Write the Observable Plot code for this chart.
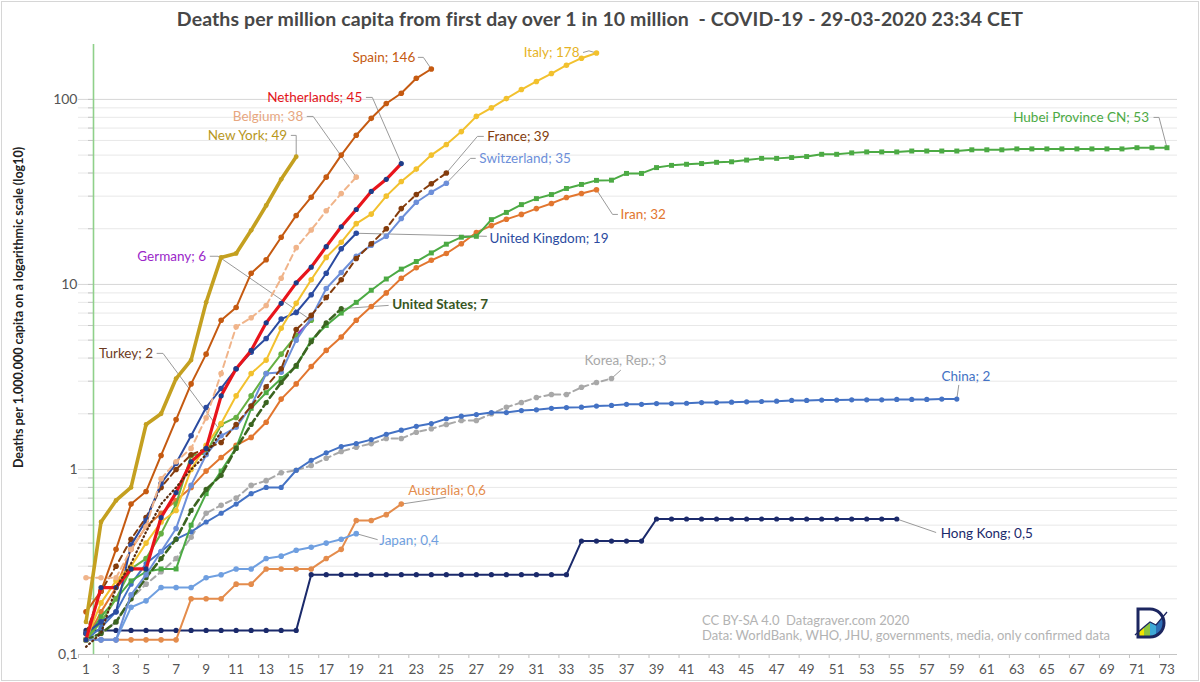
<!DOCTYPE html>
<html>
<head>
<meta charset="utf-8">
<script src="https://cdn.jsdelivr.net/npm/d3@7"></script>
<script src="https://cdn.jsdelivr.net/npm/@observablehq/plot@0.6"></script>
<style>
  body { margin: 0; background: #fff; font-family: Lato, "Open Sans", sans-serif; }
  #wrap { position: relative; width: 1200px; height: 682px; overflow: hidden; background: #fff; }
  #border { position: absolute; left: 1px; top: 1px; width: 1196px; height: 678px; border: 1px solid #d6d6d6; pointer-events: none; }
  #title { position: absolute; top: 7px; left: 0; width: 1200px; text-align: center; font-weight: bold; font-size: 19.5px; color: #474747; letter-spacing: 0.1px; }
  #chart { position: absolute; top: 36px; left: 0; }
  #caption { position: absolute; left: 702px; top: 613px; font-size: 13px; color: #b3b3b3; line-height: 15px; }
  #logo { position: absolute; left: 1133px; top: 605px; }
</style>
</head>
<body>
<div id="wrap">
  <div id="title">Deaths per million capita from first day over 1 in 10 million&nbsp; - COVID-19 - 29-03-2020 23:34 CET</div>
  <div id="chart"></div>
  <div id="caption">CC BY-SA 4.0&nbsp; Datagraver.com 2020<br>Data: WorldBank, WHO, JHU, governments, media, only confirmed data</div>
  <svg id="logo" width="36" height="36" viewBox="0 0 36 36">
    <defs><clipPath id="dclip"><path d="M5 4 H17 A14 14 0 0 1 17 32 H5 Z"/></clipPath></defs>
    <g clip-path="url(#dclip)">
      <polygon points="5,32 5,27 11,22 11,32" fill="#f2e400"/>
      <polygon points="11,32 11,22 17,17 17,32" fill="#8cc63f"/>
      <polygon points="17,32 17,17 23,20 23,32" fill="#3fa9d6"/>
      <polygon points="23,32 23,20 32,10 32,32" fill="#2e6fb7"/>
    </g>
    <path d="M5 4 H17 A14 14 0 0 1 17 32 H5 Z" fill="none" stroke="#1c2660" stroke-width="3"/>
    <polyline points="2,30 11,22 17,17 23,20 34,7" fill="none" stroke="#1c2660" stroke-width="1.3"/>
  </svg>
  <div id="border"></div>
</div>
<script>
// ---------- data: deaths per million, index 0 = day 1 ----------
const hubei = [0.12, 0.16, 0.2, 0.25, 0.28, 0.29, 0.29, 0.5, 0.74, 0.98,
  1.31, 2.14, 2.6, 3.1, 3.6, 5.0, 6.0, 7.0, 8.0, 9.3,
  10.7, 12.1, 13.3, 14.8, 16.5, 18, 18.2, 22.4, 24.5, 27,
  29.1, 30.6, 33, 34.7, 36.5, 36.6, 39.8, 39.8, 42.8, 44,
  44.6, 45, 45.7, 46, 47, 48, 48, 48.5, 49.1, 50.5,
  50.5, 51.4, 52, 52, 52, 52.6, 52.6, 52.6, 52.6, 53.4,
  53.4, 53.4, 54, 54, 54, 54, 54, 54, 54, 54,
  54.8, 54.8, 54.8];
const china = [0.12, 0.14, 0.17, 0.24, 0.31, 0.36, 0.42, 0.46, 0.52, 0.58,
  0.65, 0.74, 0.8, 0.8, 0.99, 1.12, 1.23, 1.33, 1.38, 1.45,
  1.55, 1.63, 1.71, 1.77, 1.88, 1.94, 1.98, 2.03, 2.03, 2.08,
  2.1, 2.14, 2.16, 2.17, 2.2, 2.22, 2.25, 2.25, 2.27, 2.27,
  2.28, 2.3, 2.3, 2.31, 2.32, 2.33, 2.34, 2.36, 2.36, 2.37,
  2.37, 2.38, 2.38, 2.38, 2.39, 2.39, 2.39, 2.4, 2.4];
const hongKong = [0.135, 0.135, 0.135, 0.135, 0.135, 0.135, 0.135, 0.135, 0.135, 0.135,
  0.135, 0.135, 0.135, 0.135, 0.135, 0.27, 0.27, 0.27, 0.27, 0.27,
  0.27, 0.27, 0.27, 0.27, 0.27, 0.27, 0.27, 0.27, 0.27, 0.27,
  0.27, 0.27, 0.27, 0.41, 0.41, 0.41, 0.41, 0.41, 0.54, 0.54,
  0.54, 0.54, 0.54, 0.54, 0.54, 0.54, 0.54, 0.54, 0.54, 0.54,
  0.54, 0.54, 0.54, 0.54, 0.54];
const korea = [0.12, 0.13, 0.15, 0.2, 0.24, 0.28, 0.33, 0.43, 0.58, 0.64,
  0.7, 0.82, 0.87, 0.96, 0.99, 1.05, 1.15, 1.25, 1.32, 1.38,
  1.47, 1.47, 1.59, 1.66, 1.75, 1.84, 1.84, 2.0, 2.17, 2.3,
  2.45, 2.54, 2.54, 2.78, 2.95, 3.1];
const iran = [0.12, 0.17, 0.23, 0.37, 0.49, 0.58, 0.68, 0.8, 0.98, 1.16,
  1.35, 1.49, 1.8, 2.4, 2.9, 3.6, 4.4, 5.2, 6.4, 7.6,
  9.0, 10.8, 12.3, 13.5, 14.7, 16.6, 19.1, 20.8, 22.5, 23.9,
  25.7, 27.4, 29.5, 31, 32.5];
const italy = [0.12, 0.19, 0.25, 0.3, 0.4, 0.52, 0.6, 1.0, 1.35, 1.77,
  2.5, 3.3, 3.9, 5.8, 7.9, 10.6, 14, 16.9, 21.3, 24,
  30, 36, 42, 50, 57, 67, 81, 90, 101, 113,
  125, 138, 153, 167, 178];
const spain = [0.17, 0.22, 0.37, 0.65, 0.76, 1.19, 1.86, 2.9, 4.2, 6.4,
  7.5, 11.5, 13.6, 18, 23.6, 29.6, 38, 50, 64, 79,
  95, 108, 130, 146];
const netherlands = [0.12, 0.23, 0.23, 0.29, 0.29, 0.55, 0.75, 1.1, 1.3, 2.5,
  3.5, 4.4, 6.2, 7.9, 10.2, 12.4, 16, 20.5, 25.4, 31.8,
  37, 45];
const belgium = [0.26, 0.26, 0.26, 0.37, 0.49, 0.89, 1.1, 1.3, 1.9, 3.3,
  5.9, 6.6, 7.7, 10.8, 15.8, 19.7, 25, 31, 38];
const newYork = [0.15, 0.52, 0.68, 0.8, 1.75, 2.0, 3.1, 3.9, 8.0, 14,
  14.7, 19.6, 26.7, 37, 49];
const france = [0.13, 0.22, 0.3, 0.42, 0.55, 0.8, 1.0, 1.2, 1.3, 1.4,
  1.75, 2.2, 2.8, 3.5, 5.7, 6.8, 8.5, 10.6, 13.8, 16.6,
  20, 25.7, 30.6, 35, 40];
const switzerland = [0.12, 0.12, 0.12, 0.21, 0.27, 0.36, 0.48, 0.82, 1.2, 1.52,
  1.69, 2.2, 3.3, 3.35, 5.0, 6.6, 9.5, 11.6, 14.2, 16.3,
  18.2, 22.7, 27.8, 31.5, 35.2];
const unitedKingdom = [0.13, 0.15, 0.17, 0.39, 0.53, 0.84, 1.08, 1.52, 2.16, 2.74,
  3.5, 4.3, 5.1, 6.5, 7.05, 8.8, 11.5, 15.6, 18.9];
const germany = [0.12, 0.15, 0.2, 0.29, 0.33, 0.45, 0.65, 1.19, 1.22, 1.75,
  1.91, 2.5, 3.3, 4.2, 5.3, 6.4];
const unitedStates = [0.12, 0.13, 0.15, 0.2, 0.26, 0.33, 0.42, 0.6, 0.78, 0.93,
  1.3, 1.75, 2.3, 2.95, 3.65, 4.9, 6.2, 7.4];
const turkey = [0.11, 0.13, 0.23, 0.31, 0.46, 0.65, 0.8, 1.0, 1.2, 1.6];
const australia = [0.12, 0.12, 0.12, 0.12, 0.12, 0.12, 0.12, 0.2, 0.2, 0.2,
  0.24, 0.24, 0.29, 0.29, 0.29, 0.29, 0.33, 0.37, 0.53, 0.53,
  0.57, 0.65];
const japan = [0.12, 0.12, 0.12, 0.18, 0.195, 0.23, 0.23, 0.23, 0.26, 0.27,
  0.29, 0.29, 0.33, 0.34, 0.366, 0.38, 0.4, 0.42, 0.45];

// ---------- tick labels ----------
const yTickValues = [0.1, 1, 10, 100];
const yTickLabels = ["0,1", "1", "10", "100"];
const xTickValues = d3.range(1, 74, 2);
const yAxisTitle = "Deaths per 1.000.000 capita on a logarithmic scale (log10)";

// ---------- series (draw order) ----------
const seriesList = [
  {name: "Hong Kong", values: hongKong},
  {name: "Australia", values: australia},
  {name: "Japan", values: japan},
  {name: "Korea, Rep.", values: korea},
  {name: "China", values: china},
  {name: "Iran", values: iran},
  {name: "Hubei Province CN", values: hubei},
  {name: "Germany", values: germany},
  {name: "United States", values: unitedStates},
  {name: "Switzerland", values: switzerland},
  {name: "France", values: france},
  {name: "United Kingdom", values: unitedKingdom},
  {name: "Italy", values: italy},
  {name: "Belgium", values: belgium},
  {name: "Spain", values: spain},
  {name: "Netherlands", values: netherlands},
  {name: "New York", values: newYork},
  {name: "Turkey", values: turkey}
];

// ---------- styles ----------
const styles = {
  "Hong Kong":        {color: "#1b2a6b", width: 2,   marker: "circle", r: 2.6},
  "Australia":        {color: "#e48c4c", width: 2,   marker: "circle", r: 2.8},
  "Japan":            {color: "#6f9fe0", width: 2,   marker: "circle", r: 2.8},
  "Korea, Rep.":      {color: "#a8a8a8", width: 2,   marker: "circle", r: 2.8, dash: "6,4"},
  "China":            {color: "#4472c4", width: 2,   marker: "circle", r: 2.6},
  "Iran":             {color: "#e2762f", width: 2,   marker: "circle", r: 2.8},
  "Hubei Province CN":{color: "#4caa44", width: 2,   marker: "square", r: 2.8},
  "Germany":          {color: "#66b043", width: 2,   marker: "circle", r: 2.8, tail: "#9b27c9", label: "#9b27c9"},
  "United States":    {color: "#3b6420", width: 2.6, marker: "circle", r: 2.6, dash: "7,4", label: "#375623", bold: true},
  "Switzerland":      {color: "#6d8fd9", width: 2,   marker: "circle", r: 2.8},
  "France":           {color: "#843c0c", width: 2,   marker: "circle", r: 2.8, dash: "6,4"},
  "United Kingdom":   {color: "#2b4ba0", width: 2,   marker: "circle", r: 2.8},
  "Italy":            {color: "#f2c12e", width: 2,   marker: "circle", r: 2.8, label: "#e6b325"},
  "Belgium":          {color: "#f0b48a", width: 2,   marker: "circle", r: 2.8, dash: "6,4", label: "#e7a77f"},
  "Spain":            {color: "#c55a11", width: 2,   marker: "circle", r: 2.8},
  "Netherlands":      {color: "#e8141b", width: 3.2, marker: "circle", r: 2.6, markerColor: "#1f3c88", label: "#e3141b"},
  "New York":         {color: "#c4a020", width: 3.6, marker: "circle", r: 2.4, label: "#b8971c"},
  "Turkey":           {color: "#5b2c0f", width: 2.2, dash: "1,3.2", label: "#6b3a22"}
};

// ---------- label layout (data coordinates: day, deaths per million) ----------
const labelLayout = [
  {series: "Spain",            text: "Spain; 146",            x: 22.93, y: 168.7, anchor: "end",    leader: [[23.13, 168.7], [23.47, 168.7]]},
  {series: "Italy",            text: "Italy; 178",            x: 33.87, y: 179.5, anchor: "end",    leader: [[34.13, 179.5], [34.5, 183]]},
  {series: "Netherlands",      text: "Netherlands; 45",       x: 19.4,  y: 102.5, anchor: "end",    leader: [[19.67, 102.5], [20.07, 102.5]]},
  {series: "Belgium",          text: "Belgium; 38",           x: 15.47, y: 80.9,  anchor: "end",    leader: [[15.73, 80.9], [16.13, 80.9]]},
  {series: "New York",         text: "New York; 49",          x: 14.4,  y: 63.9,  anchor: "end",    leader: [[14.67, 63.9], [15.0, 63.9]]},
  {series: "France",           text: "France; 39",            x: 27.73, y: 63.1,  anchor: "start",  leader: [[27.47, 63.1], [27.07, 63.1]]},
  {series: "Switzerland",      text: "Switzerland; 35",       x: 27.2,  y: 48,    anchor: "start",  leader: [[26.93, 48], [26.6, 48]]},
  {series: "Hubei Province CN",text: "Hubei Province CN; 53", x: 71.8,  y: 79.9,  anchor: "end",    leader: [[72.13, 79.9], [72.47, 79.9]]},
  {series: "Iran",             text: "Iran; 32",              x: 36.6,  y: 23.9,  anchor: "start",  leader: [[36.4, 23.9], [36.07, 23.9]]},
  {series: "United Kingdom",   text: "United Kingdom; 19",    x: 27.87, y: 17.7,  anchor: "start",  leader: [[27.67, 18.2]]},
  {series: "Germany",          text: "Germany; 6",            x: 9.0,   y: 14.2,  anchor: "end",    leader: [[9.27, 14.2], [9.8, 14.2]]},
  {series: "United States",    text: "United States; 7",      x: 21.4,  y: 7.8,   anchor: "start",  leader: [[21.13, 7.7]]},
  {series: "Turkey",           text: "Turkey; 2",             x: 5.47,  y: 4.24,  anchor: "end",    leader: [[5.73, 4.24], [6.13, 4.24]]},
  {series: "Korea, Rep.",      text: "Korea, Rep.; 3",        x: 36.93, y: 3.88,  anchor: "middle", leader: [[36.6, 3.43]]},
  {series: "China",            text: "China; 2",              x: 59.6,  y: 3.18,  anchor: "middle", leader: [[59.13, 2.85]]},
  {series: "Australia",        text: "Australia; 0,6",        x: 22.47, y: 0.77,  anchor: "start",  leader: [[24.93, 0.706]]},
  {series: "Japan",            text: "Japan; 0,4",            x: 20.53, y: 0.413, anchor: "start",  leader: [[20.4, 0.418]]},
  {series: "Hong Kong",        text: "Hong Kong; 0,5",        x: 57.93, y: 0.451, anchor: "start",  leader: [[57.6, 0.457]]}
];

// ---------- build ----------
const X_DOMAIN = [0.5, 73.7];
const Y_DOMAIN = [0.1, 198];
const decades = [0.1, 1, 10, 100];
const allGrid = decades.flatMap(d => d3.range(1, 10).map(k => +(d * k).toPrecision(3))).filter(v => v <= Y_DOMAIN[1]);
const minorGrid = allGrid.filter(v => !decades.includes(v));
const majorGrid = decades.filter(v => v > 0.1);
const xTickMarks = d3.range(0.5, 74, 2);

const byName = Object.fromEntries(seriesList.map(s => [s.name, s]));
const rowsOf = s => s.values.map((v, i) => ({day: i + 1, value: v}));

const marks = [
  Plot.ruleY(minorGrid, {stroke: "#e8e8e8", strokeWidth: 1}),
  Plot.ruleY(majorGrid, {stroke: "#d6d6d6", strokeWidth: 1}),
  Plot.ruleY([Y_DOMAIN[0]], {stroke: "#c4c4c4", strokeWidth: 1}),
  Plot.axisY({ticks: allGrid, tickSize: 5, dx: 15, tickFormat: () => "", stroke: "#c4c4c4", label: null}),
  Plot.ruleX([X_DOMAIN[0]], {dx: 15, stroke: "#8fd08a", strokeWidth: 1.6}),
  Plot.axisY({ticks: yTickValues, tickSize: 0, tickPadding: 1, tickFormat: d => yTickLabels[yTickValues.indexOf(d)], fontSize: 14, color: "#555", label: null}),
  Plot.axisX({ticks: xTickMarks, tickSize: 4, tickFormat: () => "", stroke: "#c4c4c4", label: null}),
  Plot.axisX({ticks: xTickValues, tickSize: 0, tickPadding: 10, fontSize: 13.5, color: "#555", label: null}),
  Plot.text([yAxisTitle], {frameAnchor: "left", textAnchor: "middle", rotate: -90, dx: -60, dy: -42, fontWeight: "bold", fontSize: 12.5, fill: "#222"})
];

// leaders
for (const L of labelLayout) {
  const s = byName[L.series];
  const end = [s.values.length, s.values[s.values.length - 1]];
  marks.push(Plot.line([...L.leader, end], {x: d => d[0], y: d => d[1], stroke: "#9a9a9a", strokeWidth: 1}));
}

// series
for (const s of seriesList) {
  const st = styles[s.name];
  const rows = rowsOf(s);
  marks.push(Plot.line(rows, {
    x: "day", y: "value", stroke: st.color, strokeWidth: st.width,
    strokeDasharray: st.dash, strokeLinejoin: "round", strokeLinecap: "round"
  }));
  if (st.tail) {
    marks.push(Plot.line(rows.slice(-2), {x: "day", y: "value", stroke: st.tail, strokeWidth: st.width, strokeLinecap: "round"}));
  }
  if (st.marker) {
    marks.push(Plot.dot(rows, {x: "day", y: "value", symbol: st.marker, r: st.r, fill: st.markerColor || st.color, stroke: "none"}));
  }
}

// labels
for (const L of labelLayout) {
  const st = styles[L.series];
  marks.push(Plot.text([L], {
    x: "x", y: "y", text: "text", textAnchor: L.anchor,
    fill: st.label || st.color, fontSize: 13.5, fontWeight: st.bold ? "bold" : "normal"
  }));
}

const chart = Plot.plot({
  width: 1200,
  height: 646,
  marginTop: 8,
  marginBottom: 28,
  marginLeft: 78,
  marginRight: 23,
  style: {fontFamily: "Lato, 'Open Sans', sans-serif", background: "transparent", overflow: "visible"},
  x: {domain: X_DOMAIN},
  y: {type: "log", domain: Y_DOMAIN},
  marks
});
document.getElementById("chart").appendChild(chart);
</script>
</body>
</html>
